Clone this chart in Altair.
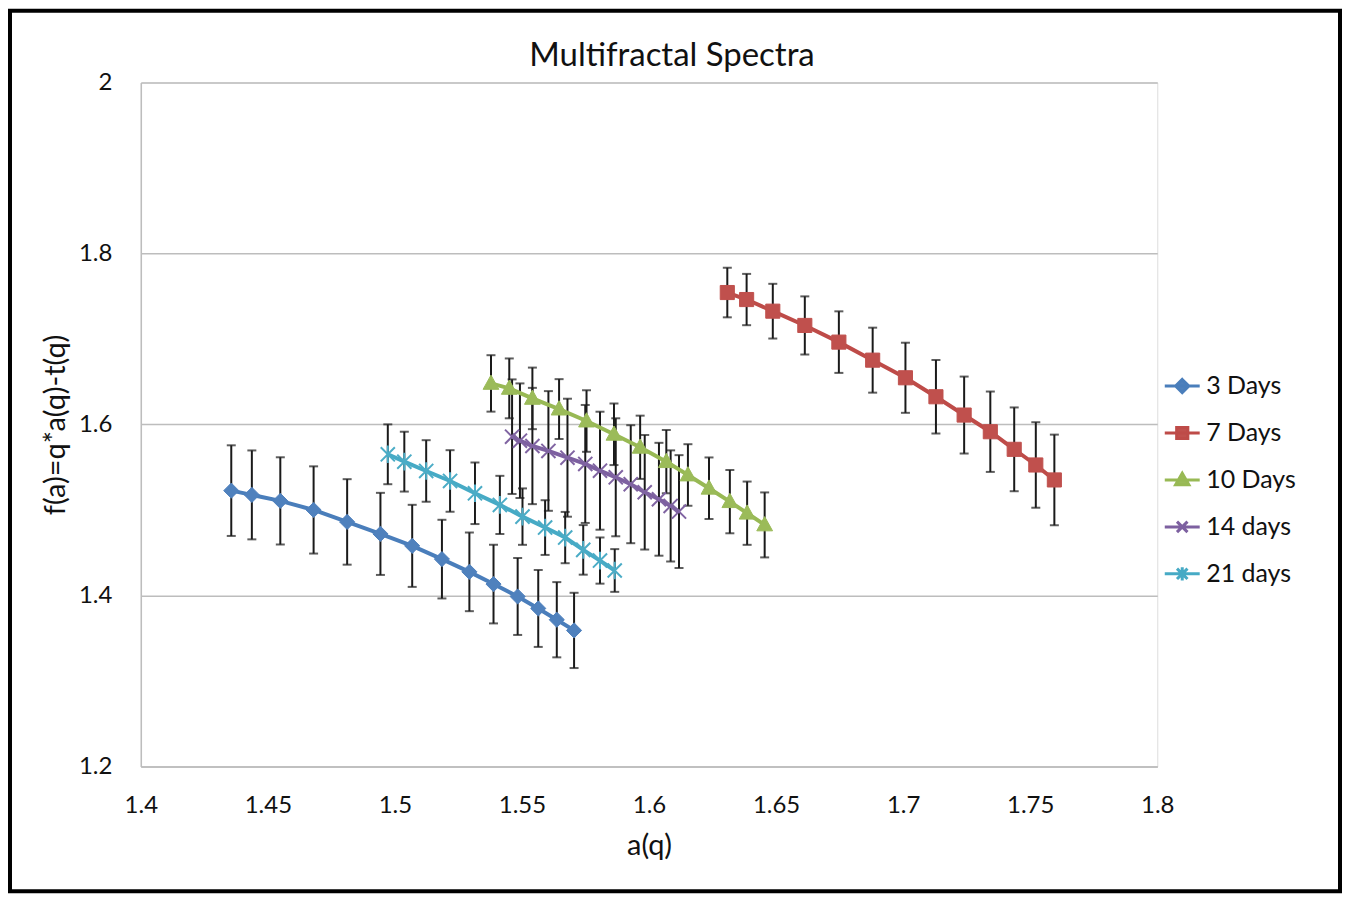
import altair as alt
import pandas as pd

# ---------------- data ----------------
series_names = ["3 Days", "7 Days", "10 Days", "14 days", "21 days"]

x_3 = [1.4356, 1.4437, 1.4549, 1.4680, 1.4812, 1.4943, 1.5068, 1.5185, 1.5293, 1.5388, 1.5483, 1.5564, 1.5637, 1.5705]
y_3 = [1.5227, 1.5177, 1.5107, 1.5001, 1.4861, 1.4721, 1.4581, 1.4426, 1.4277, 1.4134, 1.3989, 1.3849, 1.3717, 1.3592]
e_3 = [0.053, 0.052, 0.051, 0.051, 0.050, 0.048, 0.048, 0.046, 0.046, 0.046, 0.045, 0.045, 0.044, 0.044]

x_7 = [1.6308, 1.6384, 1.6487, 1.6613, 1.6747, 1.6880, 1.7009, 1.7129, 1.7240, 1.7343, 1.7437, 1.7522, 1.7595]
y_7 = [1.7544, 1.7462, 1.7326, 1.7159, 1.6964, 1.6753, 1.6547, 1.6325, 1.6111, 1.5916, 1.5710, 1.5527, 1.5352]
e_7 = [0.029, 0.030, 0.032, 0.034, 0.036, 0.038, 0.041, 0.043, 0.045, 0.047, 0.049, 0.050, 0.053]

x_10 = [1.5378, 1.5450, 1.5541, 1.5646, 1.5754, 1.5862, 1.5965, 1.6068, 1.6153, 1.6236, 1.6318, 1.6386, 1.6455]
y_10 = [1.6481, 1.6423, 1.6306, 1.6181, 1.6041, 1.5886, 1.5734, 1.5566, 1.5410, 1.5255, 1.5098, 1.4963, 1.4826]
e_10 = [0.033, 0.035, 0.036, 0.035, 0.036, 0.036, 0.037, 0.037, 0.036, 0.036, 0.037, 0.037, 0.038]

x_14 = [1.5461, 1.5492, 1.5541, 1.5604, 1.5679, 1.5749, 1.5807, 1.5869, 1.5928, 1.5983, 1.6039, 1.6085, 1.6118]
y_14 = [1.5858, 1.5811, 1.5749, 1.5691, 1.5612, 1.5539, 1.5460, 1.5383, 1.5302, 1.5208, 1.5126, 1.5048, 1.4982]
e_14 = [0.067, 0.067, 0.068, 0.070, 0.069, 0.069, 0.069, 0.069, 0.069, 0.067, 0.066, 0.065, 0.066]

x_21 = [1.4972, 1.5037, 1.5123, 1.5217, 1.5315, 1.5413, 1.5502, 1.5591, 1.5670, 1.5741, 1.5807, 1.5865]
y_21 = [1.5652, 1.5566, 1.5457, 1.5340, 1.5196, 1.5060, 1.4923, 1.4795, 1.4678, 1.4534, 1.4409, 1.4293]
e_21 = [0.035, 0.035, 0.036, 0.036, 0.036, 0.034, 0.033, 0.032, 0.030, 0.029, 0.027, 0.025]

x_ticks = [1.4, 1.45, 1.5, 1.55, 1.6, 1.65, 1.7, 1.75, 1.8]
y_ticks = [1.2, 1.4, 1.6, 1.8, 2.0]

line_colors = ["#4A7EBB", "#BE4B48", "#98B954", "#7D60A0", "#46AAC5"]
marker_colors = ["#4F81BD", "#C0504D", "#9BBB59", "#8064A2", "#4BACC6"]

# marker outlines (unit paths) and legend symbols (line + marker)
marker_paths = [
    "M0,-1L1,0L0,1L-1,0Z",
    "M-1,-1H1V1H-1Z",
    "M0,-1.05L1,0.75H-1Z",
    "M-1,-1L1,1M-1,1L1,-1",
    "M-1,-1L1,1M-1,1L1,-1M0,-1.25V1.25",
]
marker_sizes = [230, 200, 250, 200, 200]
marker_strokes = [1, 1, 1, 2, 2]
legend_paths = [
    "M-1,0H1M0,-0.38L0.38,0L0,0.38L-0.38,0Z",
    "M-1,0H1M-0.32,-0.32H0.32V0.32H-0.32Z",
    "M-1,0H1M0,-0.38L0.38,0.28H-0.38Z",
    "M-1,0H1M-0.3,-0.3L0.3,0.3M-0.3,0.3L0.3,-0.3",
    "M-1,0H1M-0.3,-0.3L0.3,0.3M-0.3,0.3L0.3,-0.3M0,-0.38V0.38",
]

all_x = [x_3, x_7, x_10, x_14, x_21]
all_y = [y_3, y_7, y_10, y_14, y_21]
all_e = [e_3, e_7, e_10, e_14, e_21]

rows = []
for name, xs, ys, es in zip(series_names, all_x, all_y, all_e):
    for xv, yv, ev in zip(xs, ys, es):
        rows.append({"series": name, "a": xv, "f": yv, "lo": yv - ev, "hi": yv + ev})
df = pd.DataFrame(rows)

FONT = "Lato"

x_scale = alt.Scale(domain=[1.4, 1.8], nice=False, zero=False)
y_scale = alt.Scale(domain=[1.2, 2.0], nice=False, zero=False)

x_axis = alt.Axis(
    title="a(q)", values=x_ticks, format=".2~f", grid=False, ticks=False, tickSize=0,
    domainColor="#BDBDBD", domainWidth=1.5,
    labelFont=FONT, labelFontSize=24, labelColor="#111111", labelPadding=46,
    labelBaseline="alphabetic", labelFlush=False,
    titleFont=FONT, titleFontSize=29, titleFontWeight="normal", titleColor="#111111",
    titleY=88, titleBaseline="alphabetic",
)
y_axis = alt.Axis(
    title="f(a)=q*a(q)-t(q)", values=y_ticks, format=".1~f", grid=True,
    gridColor="#BDBDBD", gridWidth=1.5, ticks=False, tickSize=0,
    domainColor="#BDBDBD", domainWidth=1.5,
    labelFont=FONT, labelFontSize=24, labelColor="#111111", labelPadding=29,
    titleFont=FONT, titleFontSize=29, titleFontWeight="normal", titleColor="#111111",
    titleX=-85, titleBaseline="middle",
)

X = alt.X("a:Q", scale=x_scale, axis=x_axis)
Y = alt.Y("f:Q", scale=y_scale, axis=y_axis)

base = alt.Chart(df)

errbars = base.mark_errorbar(
    ticks={"size": 9, "thickness": 2, "color": "#1A1A1A"},
    rule={"strokeWidth": 2, "color": "#1A1A1A"},
).encode(
    x=X,
    y=alt.Y("lo:Q", scale=y_scale, axis=y_axis),
    y2="hi:Q",
    detail="series:N",
)

line_layers = []
point_layers = []
for i, name in enumerate(series_names):
    sub = base.transform_filter(alt.datum.series == name)
    line_layers.append(
        sub.mark_line(strokeWidth=4, color=line_colors[i]).encode(x=X, y=Y, order="a:Q")
    )
    point_layers.append(
        sub.mark_point(
            shape=marker_paths[i], size=marker_sizes[i], fill=marker_colors[i],
            stroke=marker_colors[i], strokeWidth=marker_strokes[i], opacity=1,
        ).encode(x=X, y=Y)
    )

leg = alt.Legend(
    title=None, orient="none", legendX=1024, legendY=285, padding=0,
    symbolSize=1225, symbolStrokeWidth=3, symbolOpacity=1, rowPadding=15,
    labelOffset=5, labelFont=FONT, labelFontSize=25, labelColor="#111111",
    labelLimit=300,
)
# legend-only layer: no marks drawn (all rows filtered out), entries come from the scale domains
legend_layer = base.transform_filter("datum.f > 100").mark_point().encode(
    x=X, y=Y,
    fill=alt.Fill("series:N", scale=alt.Scale(domain=series_names, range=marker_colors), legend=leg),
    stroke=alt.Stroke("series:N", scale=alt.Scale(domain=series_names, range=line_colors), legend=leg),
    shape=alt.Shape("series:N", scale=alt.Scale(domain=series_names, range=legend_paths), legend=leg),
)

border = alt.Chart(pd.DataFrame({"k": [0]})).mark_rect(
    fillOpacity=0, stroke="#000000", strokeWidth=4
).encode(
    x=alt.value(-131), x2=alt.value(1201), y=alt.value(-72), y2=alt.value(810)
)

chart = alt.layer(errbars, *line_layers, *point_layers, legend_layer, border).properties(
    width=1018, height=685,
    padding={"left": 133, "top": 74, "right": 185, "bottom": 127},
    autosize=alt.AutoSizeParams(type="none"),
    title=alt.Title("Multifractal Spectra", font=FONT, fontSize=33, fontWeight="normal",
                    color="#111111", anchor="middle", dx=23, offset=-90, baseline="alphabetic"),
).configure_view(stroke=None).configure(background="white")

chart.save("out.html", embed_options={"renderer": "svg", "actions": False})
